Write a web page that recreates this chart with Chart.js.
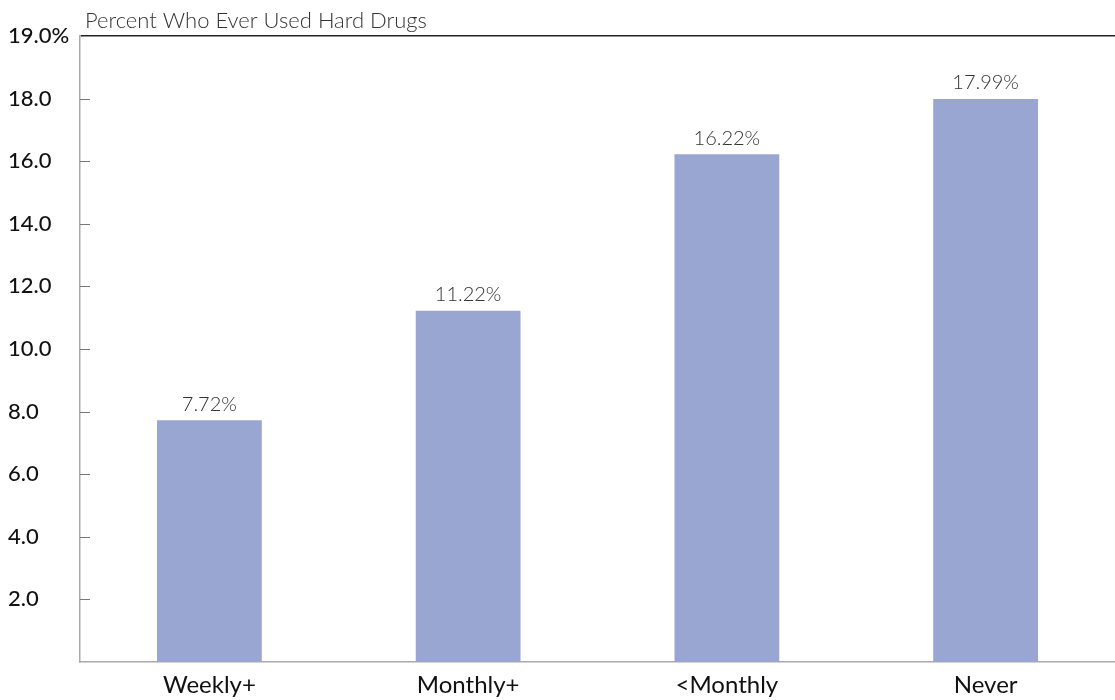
<!DOCTYPE html>
<html>
<head>
<meta charset="utf-8">
<script src="https://cdn.jsdelivr.net/npm/chart.js@4"></script>
<style>
  html, body { margin: 0; padding: 0; background: #fff; }
  #wrap { width: 1115px; height: 700px; }
</style>
</head>
<body>
<div id="wrap"><canvas id="grafico"></canvas></div>
<script>
const categorias = ['Weekly+', 'Monthly+', '<Monthly', 'Never']
const porcentajes = [7.72, 11.22, 16.22, 17.99]
const marcas_y = [2, 4, 6, 8, 10, 12, 14, 16, 18, 20]
const etiquetas_y = ['2.0', '4.0', '6.0', '8.0', '10.0', '12.0', '14.0', '16.0', '18.0', '19.0%']
const titulo = 'Percent Who Ever Used Hard Drugs'

const fuente = 'Lato, "Open Sans", sans-serif'

// titulo, rayitas del eje y y valores encima de las barras
const extras = {
  id: 'extras',
  afterDatasetsDraw(chart) {
    const { ctx, chartArea, scales } = chart
    const y = scales.y
    ctx.save()
    ctx.strokeStyle = '#777'
    ctx.lineWidth = 1
    marcas_y.slice(0, -1).forEach(v => {
      const py = Math.round(y.getPixelForValue(v)) + 0.5
      ctx.beginPath()
      ctx.moveTo(chartArea.left, py)
      ctx.lineTo(chartArea.left + 10, py)
      ctx.stroke()
    })

    ctx.fillStyle = '#333'
    ctx.font = '300 20px ' + fuente
    ctx.textAlign = 'center'
    ctx.textBaseline = 'bottom'
    const meta = chart.getDatasetMeta(0)
    meta.data.forEach((bar, i) => {
      ctx.fillText(porcentajes[i].toFixed(2) + '%', bar.x, bar.y - 6)
    })

    ctx.font = '300 22px ' + fuente
    ctx.textAlign = 'left'
    ctx.textBaseline = 'middle'
    ctx.fillText(titulo, chartArea.left + 5, chartArea.top - 15)
    ctx.restore()
  }
}

window.addEventListener('load', () => {
  chart = new Chart(document.getElementById('grafico'), {
    type: 'bar',
    data: {
      labels: categorias,
      datasets: [{
        label: titulo,
        data: porcentajes,
        backgroundColor: '#9aa6d2',
        borderWidth: 0,
        categoryPercentage: 1,
        barPercentage: 0.405
      }]
    },
    options: {
      responsive: true,
      maintainAspectRatio: false,
      animation: false,
      layout: { padding: { left: 8, top: 36, right: 0, bottom: 0 } },
      plugins: {
        legend: { display: false },
        tooltip: { enabled: false }
      },
      scales: {
        x: {
          afterFit: (s) => { s.height = 38 },
          grid: { display: false, drawTicks: false },
          border: { color: '#aaa', width: 1.5 },
          ticks: { color: '#111', padding: 9, font: { family: fuente, size: 24 } }
        },
        y: {
          min: 0,
          max: 20,
          afterFit: (s) => { s.width = 72 },
          afterBuildTicks: (s) => { s.ticks = marcas_y.map(v => ({ value: v })) },
          grid: {
            drawTicks: false,
            color: (c) => c.tick && c.tick.value === 20 ? '#222' : 'rgba(0,0,0,0)',
            lineWidth: 1.5
          },
          border: { color: '#aaa', width: 1.5 },
          ticks: {
            crossAlign: 'far',
            color: '#111',
            font: { family: fuente, size: 22, weight: '500' },
            callback: (v) => etiquetas_y[marcas_y.indexOf(v)]
          }
        }
      }
    },
    plugins: [extras]
  })
})
</script>
</body>
</html>
